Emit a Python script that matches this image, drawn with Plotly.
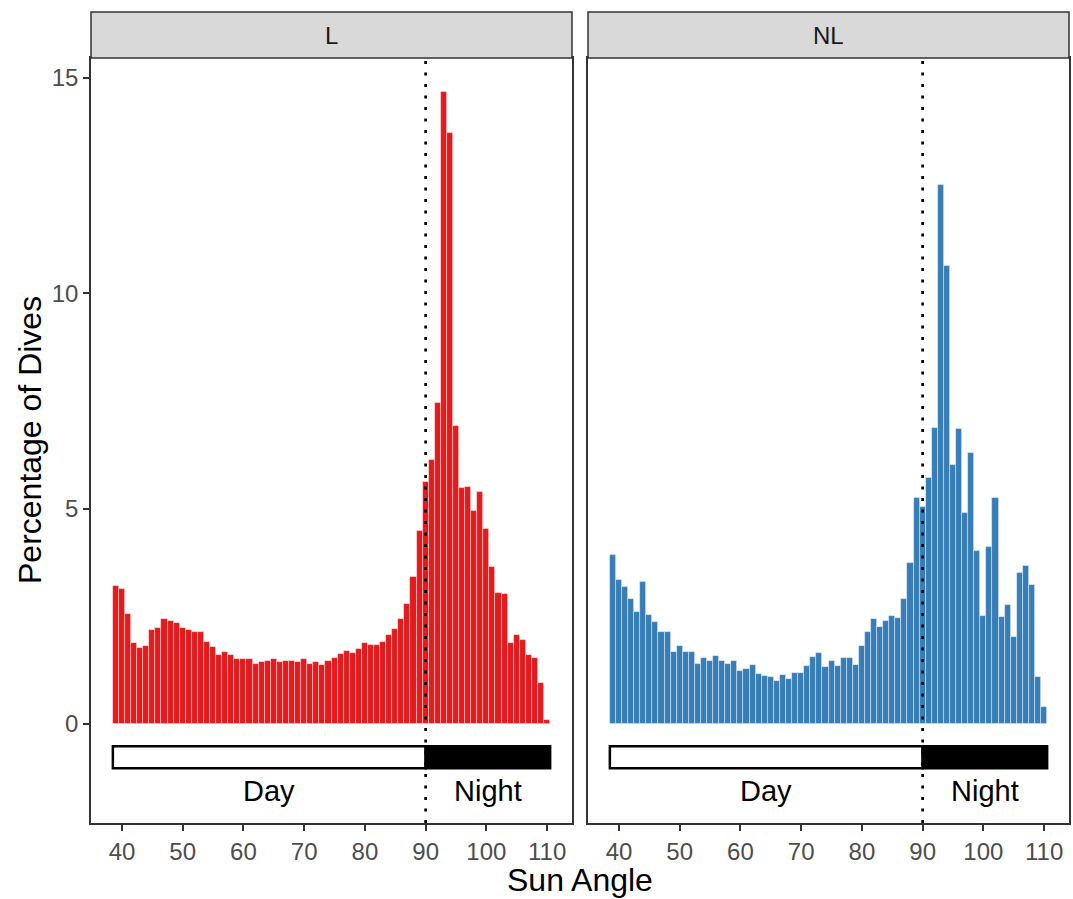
import plotly.graph_objects as go

sun_angle = list(range(39, 111))

pct_L = [3.21, 3.13, 2.55, 1.87, 1.77, 1.81, 2.18, 2.23, 2.43, 2.39,
         2.34, 2.22, 2.19, 2.13, 2.13, 1.91, 1.78, 1.60, 1.67, 1.60,
         1.50, 1.50, 1.50, 1.40, 1.44, 1.46, 1.50, 1.43, 1.45, 1.47,
         1.43, 1.50, 1.40, 1.43, 1.36, 1.45, 1.54, 1.62, 1.70, 1.64,
         1.74, 1.88, 1.84, 1.83, 1.90, 2.07, 2.20, 2.43, 2.78, 3.41,
         4.47, 5.61, 6.13, 7.45, 14.67, 13.72, 6.92, 5.48, 5.51, 4.95,
         5.39, 4.52, 3.65, 3.03, 3.01, 1.87, 2.07, 1.94, 1.61, 1.54,
         0.96, 0.10]

pct_NL = [3.93, 3.34, 3.18, 2.91, 2.61, 3.29, 2.53, 2.36, 2.14, 2.14,
          1.67, 1.80, 1.68, 1.68, 1.40, 1.52, 1.47, 1.57, 1.46, 1.40,
          1.46, 1.24, 1.27, 1.37, 1.16, 1.12, 1.08, 0.99, 1.13, 1.05,
          1.19, 1.18, 1.35, 1.55, 1.64, 1.33, 1.47, 1.34, 1.54, 1.53,
          1.37, 1.81, 2.13, 2.43, 2.26, 2.40, 2.50, 2.46, 2.90, 3.74,
          5.24, 5.03, 5.72, 6.86, 12.52, 10.64, 6.01, 6.84, 4.89, 6.30,
          4.01, 2.50, 4.10, 5.24, 2.49, 2.75, 2.02, 3.51, 3.66, 3.22,
          1.09, 0.40]

panels = ["L", "NL"]
colors = ["#E41A1C", "#377EB8"]
x_ticks = [40, 50, 60, 70, 80, 90, 100, 110]
y_ticks = [0, 5, 10, 15]
day_start, boundary, night_end = 38.5, 90, 110.5
bar_y_top, bar_y_bottom = -0.52, -1.03
label_y = -1.55

W, H = 1073, 899
x_dom = [[91 / W, 572 / W], [588 / W, 1069 / W]]
y_dom = [(H - 823) / H, (H - 58) / H]
strip_top = (H - 12) / H
x_range = [34.9, 114.1]
y_range = [-2.30, 15.46]
FONT = "Liberation Sans, Arial"

fig = go.Figure()
for i, (vals, col) in enumerate(zip([pct_L, pct_NL], colors)):
    xa = "x" if i == 0 else "x2"
    ya = "y" if i == 0 else "y2"
    fig.add_trace(go.Bar(x=sun_angle, y=vals, width=1, xaxis=xa, yaxis=ya,
                         marker=dict(color=col, line=dict(color="rgba(255,255,255,0.55)", width=0.8)),
                         showlegend=False, hoverinfo="x+y"))

axis_common = dict(showline=True, mirror=True, linecolor="#333333", linewidth=1.5,
                   showgrid=False, zeroline=False, ticklen=6,
                   tickwidth=1.5, tickcolor="#333333",
                   tickfont=dict(family=FONT, size=24, color="#4D4D4D"))

fig.update_layout(
    width=W, height=H, margin=dict(l=0, r=0, t=0, b=0),
    plot_bgcolor="white", paper_bgcolor="white", bargap=0,
    xaxis=dict(domain=x_dom[0], range=x_range, tickvals=x_ticks, anchor="y", ticks="outside", **axis_common),
    xaxis2=dict(domain=x_dom[1], range=x_range, tickvals=x_ticks, anchor="y2", ticks="outside", **axis_common),
    yaxis=dict(domain=y_dom, range=y_range, tickvals=y_ticks, anchor="x", ticks="outside", **axis_common),
    yaxis2=dict(domain=y_dom, range=y_range, tickvals=y_ticks, anchor="x2",
                showticklabels=False, ticks="", **axis_common),
)

shapes = []
annotations = []
for i, name in enumerate(panels):
    xr = "x" if i == 0 else "x2"
    yr = "y" if i == 0 else "y2"
    shapes.append(dict(type="rect", xref="paper", yref="paper",
                       x0=x_dom[i][0], x1=x_dom[i][1], y0=y_dom[1], y1=strip_top,
                       fillcolor="#D9D9D9", line=dict(color="#333333", width=1.5), layer="above"))
    annotations.append(dict(text=name, xref="paper", yref="paper",
                            x=(x_dom[i][0] + x_dom[i][1]) / 2, y=(y_dom[1] + strip_top) / 2,
                            showarrow=False, xanchor="center", yanchor="middle",
                            font=dict(family=FONT, size=24, color="#1A1A1A")))
    shapes.append(dict(type="rect", xref=xr, yref=yr, x0=day_start, x1=boundary,
                       y0=bar_y_bottom, y1=bar_y_top, fillcolor="white",
                       line=dict(color="black", width=2.5)))
    shapes.append(dict(type="rect", xref=xr, yref=yr, x0=boundary, x1=night_end,
                       y0=bar_y_bottom, y1=bar_y_top, fillcolor="black",
                       line=dict(color="black", width=2.5)))
    shapes.append(dict(type="line", xref=xr, yref=yr, x0=boundary, x1=boundary,
                       y0=y_range[0], y1=y_range[1],
                       line=dict(color="black", width=2.7, dash="3px,8.5px"),
                       layer="above"))
    annotations.append(dict(text="Day", xref=xr, yref=yr, x=(day_start + boundary) / 2, y=label_y,
                            showarrow=False, font=dict(family=FONT, size=29, color="black")))
    annotations.append(dict(text="Night", xref=xr, yref=yr, x=(boundary + night_end) / 2, y=label_y,
                            showarrow=False, font=dict(family=FONT, size=29, color="black")))

annotations.append(dict(text="Sun Angle", xref="paper", yref="paper", x=(91 + 1069) / 2 / W,
                        y=(H - 880) / H, showarrow=False, xanchor="center", yanchor="middle",
                        font=dict(family=FONT, size=32, color="black")))
annotations.append(dict(text="Percentage of Dives", xref="paper", yref="paper", x=30 / W,
                        y=(H - 440) / H, showarrow=False, textangle=-90, xanchor="center", yanchor="middle",
                        font=dict(family=FONT, size=32, color="black")))

fig.update_layout(shapes=shapes, annotations=annotations)
fig.write_html("out.html")
